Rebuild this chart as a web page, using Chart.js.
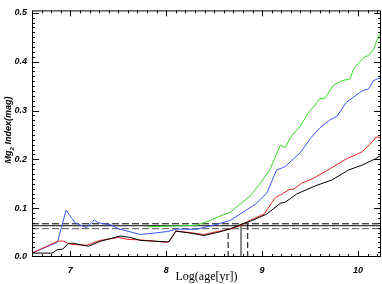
<!DOCTYPE html>
<html>
<head>
<meta charset="utf-8">
<script src="https://cdn.jsdelivr.net/npm/chart.js@4.4.1/dist/chart.umd.min.js"></script>
<style>
html, body { margin: 0; padding: 0; background: #fff; }
</style>
</head>
<body>
<canvas id="mgChart" width="382" height="284"></canvas>
<script>
// data (x = log age, y = Mg2 index)
const blackAge = [6.60,6.81,6.865,6.92,6.98,7.03,7.19,7.31,7.52,7.625,7.73,8.01,8.03,8.10,8.25,8.39,8.53,8.67,8.77,8.875,9.05,9.19,9.24,9.36,9.50,9.56,9.73,9.90,10.04,10.18,10.24];
const blackMg  = [0.008,0.008,0.015,0.016,0.028,0.028,0.022,0.032,0.043,0.040,0.034,0.031,0.032,0.053,0.049,0.044,0.050,0.058,0.066,0.073,0.088,0.110,0.112,0.129,0.141,0.146,0.158,0.178,0.188,0.201,0.208];

const redAge = [6.60,6.865,6.92,7.00,7.17,7.31,7.50,7.60,7.73,8.01,8.03,8.10,8.25,8.39,8.53,8.67,8.77,8.85,9.02,9.14,9.21,9.28,9.33,9.41,9.50,9.57,9.71,9.88,10.04,10.125,10.195,10.24];
const redMg  = [0.008,0.032,0.033,0.026,0.024,0.034,0.040,0.036,0.035,0.030,0.031,0.053,0.050,0.046,0.052,0.057,0.064,0.073,0.088,0.122,0.129,0.138,0.139,0.151,0.158,0.165,0.181,0.201,0.215,0.231,0.246,0.244];

const blueAge = [6.60,6.865,6.955,7.05,7.17,7.25,7.29,7.42,7.50,7.73,7.83,8.01,8.11,8.32,8.49,8.67,8.77,8.93,9.05,9.15,9.24,9.31,9.40,9.50,9.60,9.71,9.78,9.88,9.95,10.05,10.11,10.16,10.24];
const blueMg  = [0.008,0.030,0.096,0.070,0.060,0.076,0.070,0.066,0.058,0.046,0.048,0.052,0.057,0.057,0.065,0.075,0.088,0.108,0.131,0.178,0.185,0.198,0.214,0.242,0.264,0.281,0.288,0.317,0.327,0.341,0.344,0.361,0.368];

const greenAge = [7.80,8.32,8.42,8.59,8.67,8.77,8.875,8.98,9.08,9.19,9.24,9.31,9.40,9.48,9.535,9.60,9.66,9.74,9.83,9.92,9.95,10.055,10.11,10.16,10.21,10.24];
const greenMg  = [0.062,0.065,0.072,0.086,0.092,0.108,0.125,0.151,0.178,0.229,0.224,0.249,0.268,0.295,0.307,0.324,0.326,0.351,0.361,0.365,0.384,0.408,0.413,0.424,0.450,0.460];

// reference levels and the ages where they are met
const hLevels = [0.068, 0.064, 0.058];
const vAges   = [8.85, 8.78, 8.646];

const xTicks = [7, 8, 9, 10];
const yTicks = [0.0, 0.1, 0.2, 0.3, 0.4, 0.5];

const X_MIN = 6.6, X_MAX = 10.24, Y_MIN = 0, Y_MAX = 0.505;

function pts(xs, ys) {
  return xs.map((x, i) => ({ x: x, y: ys[i] }));
}

function curve(xs, ys, color, order) {
  return {
    data: pts(xs, ys), borderColor: color, borderWidth: 1,
    pointRadius: 0, showLine: true, tension: 0, order: order
  };
}

const refStyles = [
  { color: '#000', dash: [7, 3], width: 1 },
  { color: '#000', dash: [],     width: 1 },
  { color: '#555', dash: [7, 3], width: 1 }
];
const vStyles = [
  { color: '#000', dash: [6, 3], width: 1 },
  { color: '#888', dash: [],     width: 2 },
  { color: '#000', dash: [6, 3], width: 1 }
];

const datasets = [
  curve(blackAge, blackMg, '#000000', 0),
  curve(redAge, redMg, '#ee2222', 1),
  curve(blueAge, blueMg, '#3a55ff', 2),
  curve(greenAge, greenMg, '#33dd22', 3)
];

hLevels.forEach((lv, i) => {
  datasets.push({
    data: [{ x: X_MIN, y: lv }, { x: X_MAX, y: lv }],
    borderColor: refStyles[i].color, borderDash: refStyles[i].dash,
    borderWidth: refStyles[i].width, pointRadius: 0, showLine: true, order: 4
  });
});
vAges.forEach((a, i) => {
  datasets.push({
    data: [{ x: a, y: 0 }, { x: a, y: hLevels[i] }],
    borderColor: vStyles[i].color, borderDash: vStyles[i].dash,
    borderWidth: vStyles[i].width, pointRadius: 0, showLine: true, order: 4
  });
});

const tickFont = { family: 'Liberation Sans', size: 9, style: 'italic', weight: 'bold' };

// box frame with inward ticks, plus the y title with subscript
const frameTicks = {
  id: 'frameTicks',
  afterDatasetsDraw(chart) {
    const { ctx, chartArea: a, scales } = chart;
    const xs = scales.x, ys = scales.y;
    ctx.save();
    ctx.lineWidth = 1;
    ctx.strokeStyle = '#000';
    ctx.strokeRect(a.left + 0.5, a.top + 0.5, a.right - a.left - 1, a.bottom - a.top - 1);

    ctx.beginPath();
    for (let i = 67; i <= 102; i++) {
      const v = i / 10;
      const px = Math.round(xs.getPixelForValue(v)) + 0.5;
      const len = (i % 10 === 0) ? 6 : 3;
      ctx.moveTo(px, a.bottom); ctx.lineTo(px, a.bottom - len);
      ctx.moveTo(px, a.top); ctx.lineTo(px, a.top + len);
    }
    for (let i = 1; i <= 50; i++) {
      const v = i / 100;
      const py = Math.round(ys.getPixelForValue(v)) + 0.5;
      const len = (i % 10 === 0) ? 7 : 3;
      ctx.moveTo(a.left, py); ctx.lineTo(a.left + len, py);
      ctx.moveTo(a.right, py); ctx.lineTo(a.right - len, py);
    }
    ctx.stroke();

    // y axis title: Mg_2 Index(mag)
    const big = 'italic bold 9px "Liberation Sans"';
    const small = 'italic bold 6px "Liberation Sans"';
    ctx.fillStyle = '#000';
    ctx.font = big;
    const w1 = ctx.measureText('Mg').width;
    const w3 = ctx.measureText(' Index(mag)').width;
    ctx.font = small;
    const w2 = ctx.measureText('2').width;
    const total = w1 + w2 + w3;
    ctx.translate(11, 130);
    ctx.rotate(-Math.PI / 2);
    ctx.textBaseline = 'alphabetic';
    let x0 = -total / 2;
    ctx.font = big;
    ctx.fillText('Mg', x0, 0);
    ctx.font = small;
    ctx.fillText('2', x0 + w1, 3);
    ctx.font = big;
    ctx.fillText(' Index(mag)', x0 + w1 + w2, 0);
    ctx.restore();
  }
};

new Chart(document.getElementById('mgChart'), {
  type: 'scatter',
  data: { datasets: datasets },
  options: {
    responsive: false,
    animation: false,
    devicePixelRatio: 1,
    layout: { padding: { top: 2, right: 1, left: 0, bottom: 0 } },
    plugins: { legend: { display: false }, tooltip: { enabled: false } },
    scales: {
      x: {
        type: 'linear', min: X_MIN, max: X_MAX,
        afterBuildTicks: s => { s.ticks = xTicks.map(v => ({ value: v })); },
        afterFit: s => { s.height = 27; },
        grid: { display: false, drawTicks: false },
        border: { display: false },
        ticks: { font: tickFont, color: '#000', padding: 8, maxRotation: 0, autoSkip: false,
                 callback: v => String(v) },
        title: { display: true, text: 'Log(age[yr])', color: '#000', padding: 0,
                 font: { family: 'Liberation Serif', size: 12 } }
      },
      y: {
        type: 'linear', min: Y_MIN, max: Y_MAX,
        afterBuildTicks: s => { s.ticks = yTicks.map(v => ({ value: v })); },
        afterFit: s => { s.width = 32; },
        grid: { display: false, drawTicks: false },
        border: { display: false },
        ticks: { font: tickFont, color: '#000', padding: 5, autoSkip: false,
                 callback: v => v.toFixed(1) }
      }
    }
  },
  plugins: [frameTicks]
});
</script>
</body>
</html>
